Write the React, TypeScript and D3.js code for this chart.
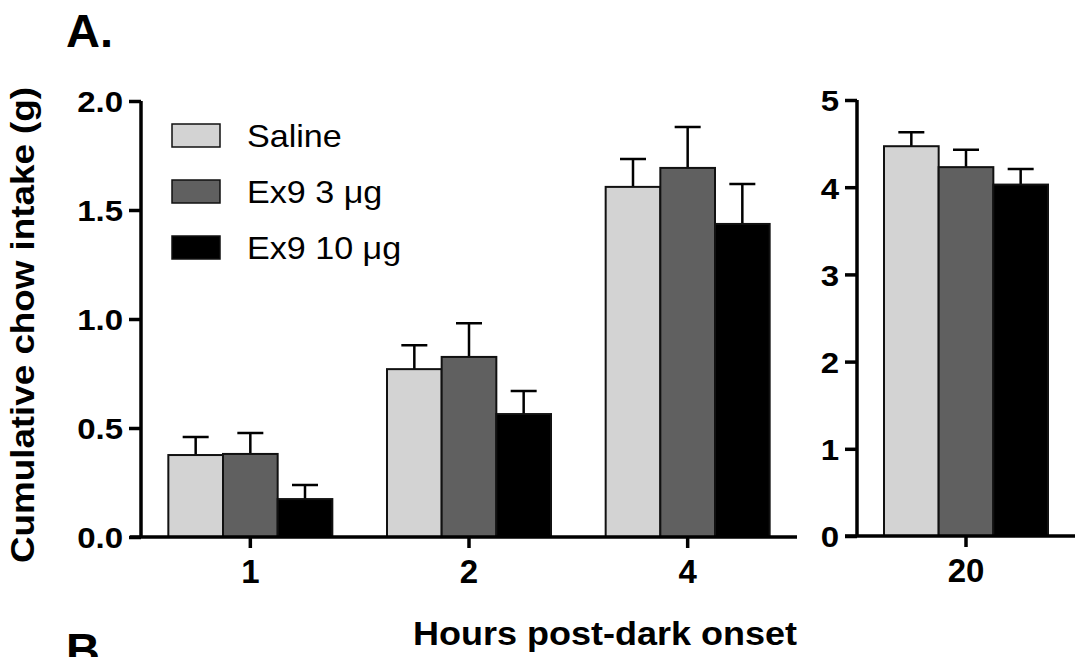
import React, { useEffect, useRef } from "react";
import * as d3 from "d3";

// hours post-dark onset, first three on left panel, last on right
const hours = ["1", "2", "4", "20"];
const seriesNames = ["Saline", "Ex9 3 μg", "Ex9 10 μg"];
const salineMean = [0.376, 0.77, 1.606, 4.47];
const salineErr = [0.083, 0.11, 0.128, 0.16];
const ex3Mean = [0.381, 0.826, 1.693, 4.23];
const ex3Err = [0.096, 0.154, 0.188, 0.2];
const ex10Mean = [0.174, 0.564, 1.436, 4.03];
const ex10Err = [0.065, 0.106, 0.183, 0.18];
const leftTicks = [0, 0.5, 1.0, 1.5, 2.0];
const rightTicks = [0, 1, 2, 3, 4, 5];
const colors = ["#d3d3d3", "#606060", "#000000"];

const FONT = "Arial, 'Liberation Sans', sans-serif";

export default function App() {
  const svgRef = useRef(null);

  useEffect(() => {
    const svg = d3.select(svgRef.current);
    svg.selectAll("*").remove();

    const means = [salineMean, ex3Mean, ex10Mean];
    const errs = [salineErr, ex3Err, ex10Err];
    const rows = hours.map((h, i) => ({
      h,
      vals: seriesNames.map((s, k) => ({ s, k, m: means[k][i], e: errs[k][i] })),
    }));

    const stretch = (sel, sx) => {
      sel.each(function () {
        const t = d3.select(this);
        const x = +t.attr("x") || 0;
        t.attr("x", x / sx).attr("transform", `scale(${sx},1)`);
      });
    };

    const drawPanel = (data, domainY, yRange, xRange, ticks, fmt, axisLeftStart) => {
      const y = d3.scaleLinear().domain(domainY).range(yRange);
      const x = d3.scaleBand().domain(data.map((d) => d.h)).range(xRange);
      const inner = d3.scaleBand().domain(seriesNames).range([-82, 82]);
      const g = svg.append("g");

      const grp = g
        .selectAll("g.grp")
        .data(data)
        .join("g")
        .attr("transform", (d) => `translate(${x(d.h) + x.bandwidth() / 2},0)`);

      // error bars (upper only)
      grp
        .selectAll("path.err")
        .data((d) => d.vals)
        .join("path")
        .attr("d", (v) => {
          const cx = inner(v.s) + inner.bandwidth() / 2;
          return `M${cx},${y(v.m)}V${y(v.m + v.e)}M${cx - 13},${y(v.m + v.e)}H${cx + 13}`;
        })
        .attr("stroke", "#000")
        .attr("stroke-width", 2.5)
        .attr("fill", "none");

      grp
        .selectAll("rect")
        .data((d) => d.vals)
        .join("rect")
        .attr("x", (v) => inner(v.s))
        .attr("width", inner.bandwidth())
        .attr("y", (v) => y(v.m))
        .attr("height", (v) => y(0) - y(v.m))
        .attr("fill", (v) => colors[v.k])
        .attr("stroke", "#111")
        .attr("stroke-width", 2);

      // y axis
      const ya = g
        .append("g")
        .attr("transform", `translate(${xRange[0]},0)`)
        .call(d3.axisLeft(y).tickValues(ticks).tickFormat(fmt).tickSize(12).tickPadding(6));
      ya.select(".domain").attr("stroke-width", 3.5).attr("d", `M0,${y(domainY[1])}V${y(0)}`);
      ya.selectAll(".tick line").attr("stroke-width", 3.5);
      ya.selectAll("text")
        .attr("font-family", FONT)
        .attr("font-weight", "bold")
        .attr("font-size", 30)
        .attr("dy", "0.36em")
        .call(stretch, 1.1);

      // x axis
      const xa = g
        .append("g")
        .attr("transform", `translate(0,${y(0)})`)
        .call(d3.axisBottom(x).tickSize(11).tickPadding(12));
      xa.select(".domain").attr("stroke-width", 3.5).attr("d", `M${axisLeftStart},0H${xRange[1]}`);
      xa.selectAll(".tick line").attr("stroke-width", 3.5);
      xa.selectAll("text")
        .attr("font-family", FONT)
        .attr("font-weight", "bold")
        .attr("font-size", 33)
        .attr("dy", "0.71em");
      return g;
    };

    drawPanel(rows.slice(0, 3), [0, 2], [537, 101], [141, 797], leftTicks, d3.format(".1f"), 130);
    drawPanel(rows.slice(3), [0, 5], [536, 100], [857, 1075], rightTicks, d3.format("d"), 845);

    // legend
    const lg = svg
      .append("g")
      .selectAll("g")
      .data(seriesNames)
      .join("g")
      .attr("transform", (d, i) => `translate(172,${124 + i * 56})`);
    lg.append("rect")
      .attr("width", 48)
      .attr("height", 23)
      .attr("fill", (d, i) => colors[i])
      .attr("stroke", "#111")
      .attr("stroke-width", 1.5);
    lg.append("text")
      .text((d) => d)
      .attr("x", 75)
      .attr("y", 23)
      .attr("font-family", FONT)
      .attr("font-size", 31)
      .call(stretch, 1.1);

    // axis titles
    svg
      .append("text")
      .text("Cumulative chow intake (g)")
      .attr("transform", "translate(34,325) rotate(-90)")
      .attr("text-anchor", "middle")
      .attr("font-family", FONT)
      .attr("font-weight", "bold")
      .attr("font-size", 33)
      .attr("textLength", 476)
      .attr("lengthAdjust", "spacingAndGlyphs");
    svg
      .append("text")
      .text("Hours post-dark onset")
      .attr("x", 605)
      .attr("y", 645)
      .attr("text-anchor", "middle")
      .attr("font-family", FONT)
      .attr("font-weight", "bold")
      .attr("font-size", 33)
      .attr("textLength", 384)
      .attr("lengthAdjust", "spacingAndGlyphs");

    // panel letters
    svg
      .append("text")
      .text("A.")
      .attr("x", 66)
      .attr("y", 47)
      .attr("font-family", FONT)
      .attr("font-weight", "bold")
      .attr("font-size", 47);
    svg
      .append("text")
      .text("B.")
      .attr("x", 66)
      .attr("y", 666)
      .attr("font-family", FONT)
      .attr("font-weight", "bold")
      .attr("font-size", 47);
  }, []);

  return (
    <svg
      ref={svgRef}
      width={1076}
      height={657}
      style={{ position: "absolute", left: 0, top: 0, background: "#fff" }}
    ></svg>
  );
}
